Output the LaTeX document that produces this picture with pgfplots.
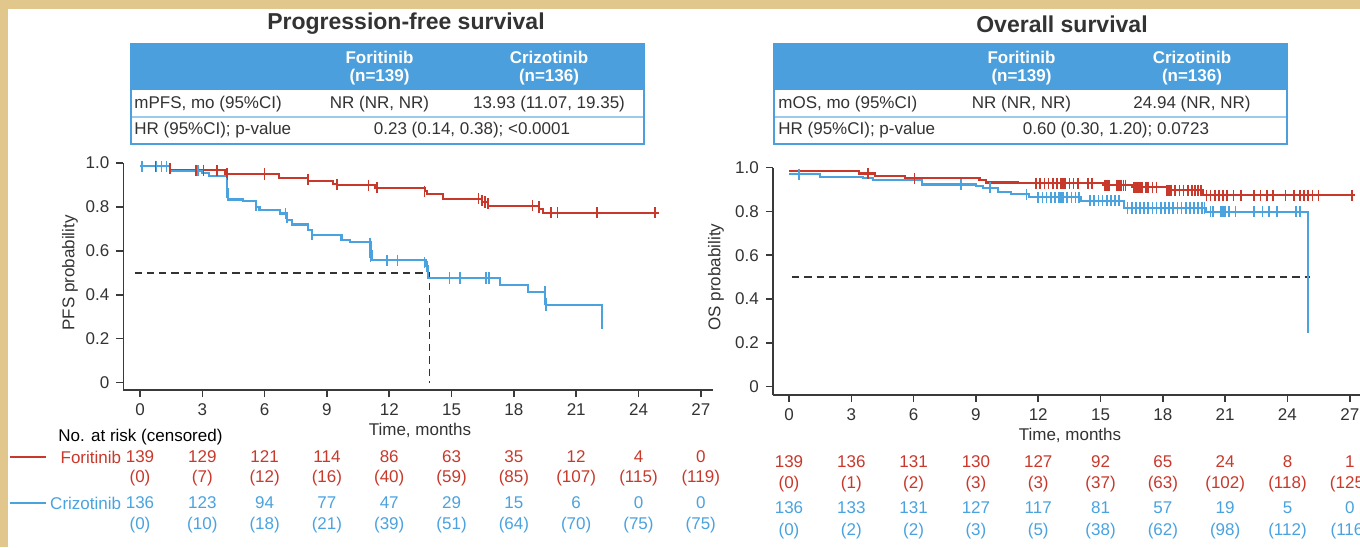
\documentclass[border=0pt]{standalone}
\usepackage{pgfplots}
\pgfplotsset{compat=1.18}
\usepackage{fontspec}
\setmainfont{Liberation Sans}
\definecolor{kred}{HTML}{C8392C}
\definecolor{kblue}{HTML}{4AA3DF}
\definecolor{hblue}{HTML}{4A9FDC}
\definecolor{dgray}{HTML}{333333}
\definecolor{agray}{HTML}{3A3A3A}
\definecolor{wood}{HTML}{E2C78C}
\newcommand{\sm}{\fontsize{8.5}{10}\selectfont}
\pgfplotsset{kmaxis/.style={
  scale only axis, axis x line*=bottom, axis y line*=left,
  axis line style={agray, line width=0.8pt},
  tick align=outside, major tick length=3.5pt,
  tick style={agray, line width=0.8pt},
  xtick={0,3,...,27}, xticklabels={0,3,6,9,12,15,18,21,24,27},
  ytick={0,0.2,0.4,0.6,0.8,1.0}, yticklabels={0,0.2,0.4,0.6,0.8,1.0},
  tick label style={font=\sm, text=dgray},
  /pgf/number format/assume math mode=true,
  clip=false,
  km/.style={const plot, line width=1.05pt},
  cens/.style={only marks, mark=|, mark size=2.8pt, mark options={line width=0.85pt}},
  refl/.style={dgray, line width=0.85pt, dash pattern=on 3.6pt off 2.5pt},
}}
\begin{document}
\begin{tikzpicture}
\useasboundingbox (0,0) rectangle (680pt,-273.5pt);
\clip (0,0) rectangle (680pt,-273.5pt);
\begin{scope}[x=0.5pt,y=-0.5pt]
\fill[wood] (0,0) rectangle (1360,547);
\fill[white] (8,9) rectangle (1360,547);
% titles
\node[font=\fontsize{11.5}{13}\selectfont\bfseries, text=dgray] at (406,24) {Progression-free survival};
\node[font=\fontsize{11.5}{13}\selectfont\bfseries, text=dgray] at (1062,24) {Overall survival};
% left table
\fill[hblue] (131,43.3) rectangle (644,90);
\draw[hblue!55, line width=1.2pt] (131,116.7) -- (644,116.7);
\draw[hblue, line width=0.7pt] (131,43.3) rectangle (644,144);
\node[font=\sm\bfseries, text=white] at (379.5,57) {Foritinib};
\node[font=\sm\bfseries, text=white] at (379.5,77.5) {(n=139)};
\node[font=\sm\bfseries, text=white] at (549,57) {Crizotinib};
\node[font=\sm\bfseries, text=white] at (549,77.5) {(n=136)};
\node[font=\sm, text=dgray, anchor=west, inner sep=0pt] at (134,104) {mPFS, mo (95\%CI)};
\node[font=\sm, text=dgray] at (379.5,104) {NR (NR, NR)};
\node[font=\sm, text=dgray] at (549,104) {13.93 (11.07, 19.35)};
\node[font=\sm, text=dgray, anchor=west, inner sep=0pt] at (134,130.5) {HR (95\%CI); p-value};
\node[font=\sm, text=dgray] at (472,130.5) {0.23 (0.14, 0.38); <0.0001};
% right table
\fill[hblue] (774,43.3) rectangle (1287,90);
\draw[hblue!55, line width=1.2pt] (774,116.7) -- (1287,116.7);
\draw[hblue, line width=0.7pt] (774,43.3) rectangle (1287,144);
\node[font=\sm\bfseries, text=white] at (1021.5,57) {Foritinib};
\node[font=\sm\bfseries, text=white] at (1021.5,77.5) {(n=139)};
\node[font=\sm\bfseries, text=white] at (1192,57) {Crizotinib};
\node[font=\sm\bfseries, text=white] at (1192,77.5) {(n=136)};
\node[font=\sm, text=dgray, anchor=west, inner sep=0pt] at (778,104) {mOS, mo (95\%CI)};
\node[font=\sm, text=dgray] at (1021.5,104) {NR (NR, NR)};
\node[font=\sm, text=dgray] at (1192,104) {24.94 (NR, NR)};
\node[font=\sm, text=dgray, anchor=west, inner sep=0pt] at (778,130.5) {HR (95\%CI); p-value};
\node[font=\sm, text=dgray] at (1116,130.5) {0.60 (0.30, 1.20); 0.0723};
% axis titles
\node[font=\sm, text=dgray, rotate=90] at (70,273) {PFS probability};
\node[font=\sm, text=dgray, rotate=90] at (716,277) {OS probability};
\node[font=\sm, text=dgray] at (420,430) {Time, months};
\node[font=\sm, text=dgray] at (1070,435) {Time, months};
% risk table left
\node[font=\sm, anchor=west, inner sep=0pt] at (58,437) {No. at risk (censored)};
\draw[kred, line width=1pt] (10,457) -- (46,457);
\draw[kblue, line width=1pt] (10,503) -- (46,503);
\node[font=\sm, text=kred, anchor=east, inner sep=0pt] at (121.5,457) {Foritinib};
\node[font=\sm, text=kblue, anchor=east, inner sep=0pt] at (121.5,503) {Crizotinib};
\foreach \n/\c [count=\i from 0] in {139/0,129/7,121/12,114/16,86/40,63/59,35/85,12/107,4/115,0/119}{
  \node[font=\sm, text=kred] at (140+62.31*\i,457) {\n};
  \node[font=\sm, text=kred] at (140+62.31*\i,478.5) {(\c)};}
\foreach \n/\c [count=\i from 0] in {136/0,123/10,94/18,77/21,47/39,29/51,15/64,6/70,0/75,0/75}{
  \node[font=\sm, text=kblue] at (140+62.31*\i,503) {\n};
  \node[font=\sm, text=kblue] at (140+62.31*\i,525) {(\c)};}
% risk table right
\foreach \n/\c [count=\i from 0] in {139/0,136/1,131/2,130/3,127/3,92/37,65/63,24/102,8/118,1/125}{
  \node[font=\sm, text=kred] at (789+62.31*\i,462) {\n};
  \node[font=\sm, text=kred] at (789+62.31*\i,484) {(\c)};}
\foreach \n/\c [count=\i from 0] in {136/0,133/2,131/2,127/3,117/5,81/38,57/62,19/98,5/112,0/116}{
  \node[font=\sm, text=kblue] at (789+62.31*\i,508) {\n};
  \node[font=\sm, text=kblue] at (789+62.31*\i,531) {(\c)};}
\end{scope}

% ---------------- PFS ----------------
\begin{axis}[kmaxis, at={(61.7pt,-195pt)}, anchor=south west,
  width=294.95pt, height=113.5pt, xmin=-0.8, xmax=27.6, ymin=-0.034, ymax=1.0]
\addplot[refl] coordinates {(-0.25,0.5)(13.93,0.5)(13.93,0)};
\addplot[km, kred] coordinates {(0,0.985)(1.45,0.967)(4.1,0.950)(6.7,0.932)(8.1,0.918)(9.3,0.905)(9.5,0.898)(11.3,0.888)(13.7,0.872)(13.8,0.857)(14.6,0.838)(16.45,0.822)(16.75,0.806)(19.2,0.79)(19.4,0.773)(25.0,0.773)};
\addplot[cens, kred] coordinates {(0.75,0.985)(1.45,0.975)(2.7,0.967)(3.05,0.967)(3.7,0.967)(4.2,0.950)(6.0,0.950)(8.1,0.925)(9.5,0.902)(11.0,0.898)(11.4,0.888)(13.7,0.872)(16.3,0.838)(16.45,0.83)(16.6,0.822)(16.75,0.814)(18.9,0.806)(19.2,0.8)(19.8,0.773)(20.1,0.773)(22.0,0.773)(24.8,0.773)};
\addplot[km, kblue] coordinates {(0,0.985)(1.45,0.965)(3.0,0.956)(3.3,0.94)(4.17,0.88)(4.25,0.834)(4.97,0.828)(5.6,0.80)(5.75,0.785)(6.74,0.77)(7.06,0.74)(7.3,0.72)(8.1,0.694)(8.27,0.671)(9.7,0.651)(10.1,0.64)(11.1,0.60)(11.15,0.557)(13.75,0.53)(13.85,0.476)(17.33,0.443)(18.7,0.412)(19.5,0.38)(19.55,0.352)(22.23,0.268)};
\addplot[cens, kblue] coordinates {(0.08,0.985)(0.8,0.985)(1.04,0.985)(1.28,0.985)(2.8,0.965)(4.17,0.907)(4.17,0.892)(4.2,0.864)(5.6,0.805)(7.0,0.77)(7.06,0.752)(8.27,0.675)(11.08,0.635)(11.08,0.615)(11.08,0.595)(11.1,0.575)(11.9,0.557)(12.4,0.557)(13.7,0.545)(13.8,0.53)(14.9,0.476)(15.4,0.476)(16.66,0.476)(16.8,0.476)(19.5,0.412)(19.5,0.38)(19.55,0.352)(22.23,0.268)};
\end{axis}

% ---------------- OS ----------------
\begin{axis}[kmaxis, at={(386.4pt,-197.35pt)}, anchor=south west,
  width=294.7pt, height=113.55pt, xmin=-0.78, xmax=27.6, ymin=-0.037, ymax=1.0]
\addplot[refl] coordinates {(0.15,0.5)(25.1,0.5)};
\addplot[km, kred] coordinates {(0,0.984)(3.36,0.973)(4.12,0.961)(5.6,0.951)(9.17,0.943)(9.5,0.932)(11.0,0.928)(15.13,0.920)(16.5,0.910)(18.18,0.897)(19.95,0.874)(27.25,0.874)};
\addplot[cens, kred] coordinates {(3.8,0.973)(6.04,0.951)
(11.9,0.928)(12.1,0.928)(12.3,0.928)(12.5,0.928)(12.7,0.928)(12.9,0.928)(13.1,0.928)(13.2,0.928)(13.3,0.928)(13.5,0.928)(13.7,0.928)(13.9,0.928)(14.4,0.928)(14.6,0.928)
(15.2,0.920)(15.3,0.920)(15.4,0.920)(15.8,0.920)(15.9,0.920)(16.0,0.920)(16.1,0.920)(16.2,0.920)
(16.6,0.910)(16.7,0.910)(16.8,0.910)(16.9,0.910)(17.0,0.910)(17.2,0.910)(17.3,0.910)(17.5,0.910)(17.7,0.910)
(18.2,0.897)(18.3,0.897)(18.4,0.897)(18.6,0.897)(18.8,0.897)(19.0,0.897)(19.2,0.897)(19.4,0.897)(19.55,0.897)(19.7,0.897)(19.85,0.897)
(20.1,0.874)(20.3,0.874)(20.5,0.874)(20.7,0.874)(20.9,0.874)(21.1,0.874)(21.4,0.874)(21.75,0.874)(22.4,0.874)(22.7,0.874)(23.0,0.874)(23.3,0.874)(23.9,0.874)(24.3,0.874)(24.6,0.874)(24.8,0.874)(25.0,0.874)(25.2,0.874)(25.5,0.874)(27.1,0.874)};
\addplot[km, kblue] coordinates {(0,0.970)(1.48,0.958)(3.55,0.951)(4.03,0.943)(6.41,0.923)(9.0,0.916)(9.33,0.908)(10.05,0.890)(10.7,0.878)(11.56,0.864)(14.07,0.848)(16.15,0.816)(20.08,0.798)(25.0,0.246)};
\addplot[cens, kblue] coordinates {(0.48,0.970)(8.27,0.923)(9.67,0.908)(11.44,0.878)
(12.0,0.864)(12.2,0.864)(12.4,0.864)(12.6,0.864)(12.8,0.864)(13.0,0.864)(13.1,0.864)(13.2,0.864)(13.4,0.864)(13.6,0.864)(13.8,0.864)(13.95,0.864)
(14.5,0.848)(14.7,0.848)(14.9,0.848)(15.1,0.848)(15.3,0.848)(15.5,0.848)(15.7,0.848)(15.9,0.848)
(16.3,0.816)(16.5,0.816)(16.7,0.816)(16.9,0.816)(17.1,0.816)(17.3,0.816)(17.5,0.816)(17.7,0.816)(17.9,0.816)(18.1,0.816)(18.3,0.816)(18.5,0.816)(18.7,0.816)(18.9,0.816)(19.1,0.816)(19.3,0.816)(19.5,0.816)(19.7,0.816)(19.9,0.816)(20.0,0.816)
(20.3,0.798)(20.4,0.798)(20.8,0.798)(20.9,0.798)(21.0,0.798)(21.2,0.798)(21.5,0.798)(22.4,0.798)(22.8,0.798)(23.1,0.798)(23.5,0.798)(24.4,0.798)(24.6,0.798)};
\end{axis}
\end{tikzpicture}
\end{document}
